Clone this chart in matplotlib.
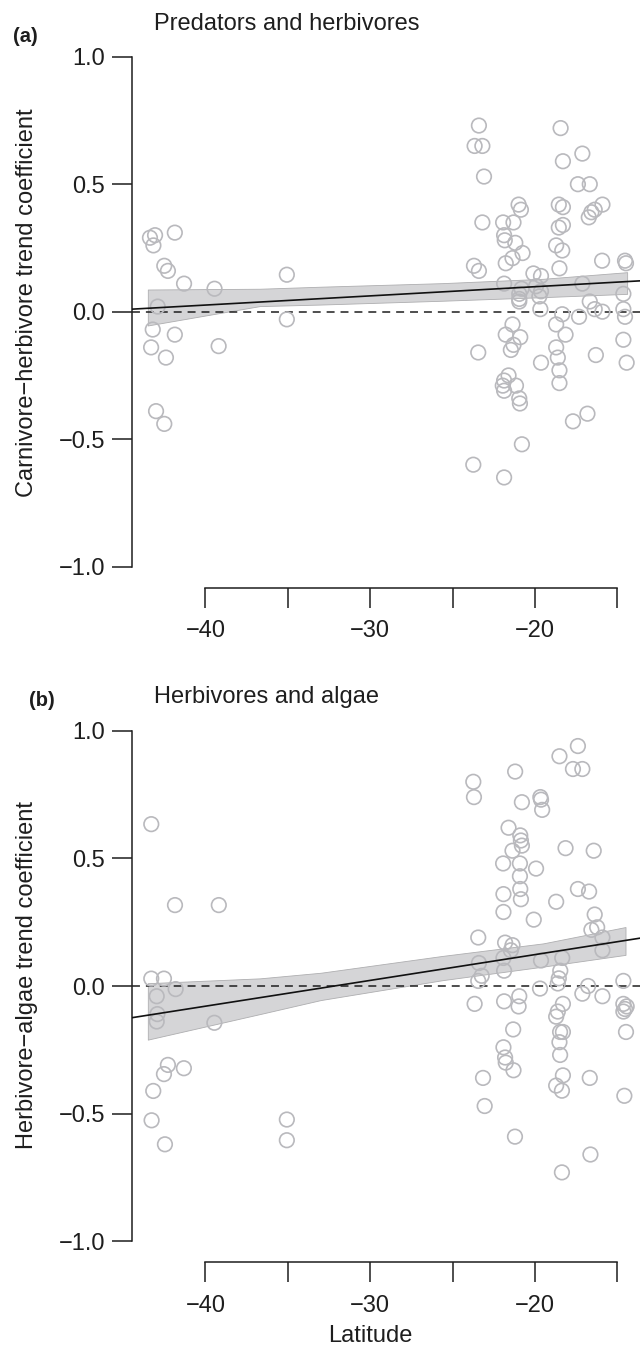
import matplotlib
matplotlib.use("Agg")
import matplotlib.pyplot as plt
import numpy as np

plt.rcParams["font.family"] = ["Liberation Sans", "DejaVu Sans"]

# (a) carnivore-herbivore trend coefficient per site, by latitude
lat_a = [-43.37, -43.06, -43.16, -41.86, -42.50, -42.28, -41.30, -39.45, -42.90, -43.20,
         -41.86, -43.30, -42.40, -39.20, -43.00, -42.50, -35.06, -35.06,
         -23.40, -23.66, -23.19, -23.09, -18.44, -17.12, -18.30, -17.39, -16.67, -20.99,
         -20.85, -18.55, -18.30, -15.90, -16.37, -16.57, -16.73, -23.19, -21.93, -21.30,
         -18.55, -18.30, -21.87, -21.83, -21.19, -18.71, -18.34, -20.75, -21.36, -21.77,
         -23.70, -23.40, -18.51, -15.92, -14.53, -14.47, -20.09, -19.63, -21.87, -20.81,
         -20.95, -20.95, -20.95, -19.93, -19.63, -19.73, -19.67, -17.12, -14.63, -14.63,
         -14.53, -16.67, -16.37, -15.90, -18.34, -17.32, -18.71, -18.14, -21.36, -21.77,
         -20.89, -21.30, -21.46, -23.44, -19.63, -18.71, -18.61, -18.51, -18.51, -16.30,
         -14.63, -14.43, -21.60, -21.87, -21.87, -21.15, -20.95, -20.91, -16.81, -17.69,
         -20.79, -23.74, -21.87, -21.95]
coef_a = [0.29, 0.30, 0.26, 0.31, 0.18, 0.16, 0.11, 0.09, 0.02, -0.07,
          -0.09, -0.14, -0.18, -0.135, -0.39, -0.44, 0.145, -0.03,
          0.73, 0.65, 0.65, 0.53, 0.72, 0.62, 0.59, 0.50, 0.50, 0.42,
          0.40, 0.42, 0.41, 0.42, 0.40, 0.39, 0.37, 0.35, 0.35, 0.35,
          0.33, 0.34, 0.30, 0.28, 0.27, 0.26, 0.24, 0.23, 0.21, 0.19,
          0.18, 0.16, 0.17, 0.20, 0.20, 0.19, 0.15, 0.14, 0.11, 0.09,
          0.07, 0.05, 0.04, 0.10, 0.08, 0.06, 0.01, 0.11, 0.07, 0.01,
          -0.02, 0.04, 0.01, 0.00, -0.01, -0.02, -0.05, -0.09, -0.05, -0.09,
          -0.10, -0.13, -0.15, -0.16, -0.20, -0.14, -0.18, -0.23, -0.28, -0.17,
          -0.11, -0.20, -0.25, -0.27, -0.31, -0.29, -0.34, -0.36, -0.40, -0.43,
          -0.52, -0.60, -0.65, -0.29]
fit_a = (0.170, 0.0036)  # intercept, slope
band_lat_a = [-43.5, -36.7, -33.0, -25.6, -19.5, -14.4]
band_lo_a = [-0.054, 0.022, 0.028, 0.043, 0.057, 0.070]
band_hi_a = [0.087, 0.090, 0.098, 0.112, 0.129, 0.155]

# (b) herbivore-algae trend coefficient per site, by latitude
lat_b = [-43.29, -41.85, -39.19, -43.29, -42.52, -41.81, -42.96, -42.92, -42.96, -39.46,
         -42.28, -41.31, -42.52, -43.17, -43.27, -42.46, -35.06, -35.06,
         -17.39, -18.51, -17.69, -17.12, -21.20, -23.74, -23.70, -19.67, -19.63, -19.56,
         -20.79, -21.60, -20.89, -20.85, -20.79, -21.36, -18.14, -16.43, -21.93, -20.91,
         -19.93, -20.91, -21.91, -20.89, -20.85, -17.39, -16.71, -18.71, -21.91, -20.07,
         -16.37, -16.57, -16.22, -15.90, -23.44, -21.81, -21.36, -21.46, -21.91, -21.87,
         -23.40, -23.23, -23.44, -19.63, -18.34, -18.46, -18.55, -18.61, -15.90, -14.63,
         -19.69, -17.12, -16.77, -15.90, -23.66, -21.87, -20.95, -20.99, -18.30, -18.61,
         -18.71, -14.63, -14.43, -14.53, -14.63, -14.47, -21.32, -18.47, -18.30, -18.51,
         -18.47, -21.91, -21.81, -21.77, -21.30, -23.15, -18.30, -16.67, -18.71, -18.36,
         -14.57, -23.05, -21.21, -16.63, -18.36]
coef_b = [0.634, 0.317, 0.317, 0.029, 0.029, -0.012, -0.040, -0.110, -0.139, -0.144,
          -0.309, -0.322, -0.345, -0.411, -0.526, -0.620, -0.523, -0.604,
          0.94, 0.90, 0.85, 0.85, 0.84, 0.80, 0.74, 0.74, 0.73, 0.69,
          0.72, 0.62, 0.59, 0.57, 0.55, 0.53, 0.54, 0.53, 0.48, 0.48,
          0.46, 0.43, 0.36, 0.38, 0.34, 0.38, 0.37, 0.33, 0.29, 0.26,
          0.28, 0.22, 0.23, 0.19, 0.19, 0.17, 0.16, 0.14, 0.11, 0.06,
          0.09, 0.04, 0.02, 0.10, 0.11, 0.06, 0.03, 0.01, 0.14, 0.02,
          -0.01, -0.03, 0.00, -0.04, -0.07, -0.06, -0.04, -0.08, -0.07, -0.10,
          -0.12, -0.07, -0.08, -0.09, -0.10, -0.18, -0.17, -0.18, -0.18, -0.22,
          -0.27, -0.24, -0.28, -0.30, -0.33, -0.36, -0.35, -0.36, -0.39, -0.41,
          -0.43, -0.47, -0.59, -0.66, -0.73]
fit_b = (0.325, 0.0101)
band_lat_b = [-43.5, -36.7, -33.0, -25.6, -19.5, -14.5]
band_lo_b = [-0.210, -0.110, -0.055, 0.023, 0.076, 0.122]
band_hi_b = [0.011, 0.030, 0.052, 0.118, 0.167, 0.231]

X_TICKS = [-40, -35, -30, -25, -20, -15]
X_LABELS = ["\u221240", "", "\u221230", "", "\u221220", ""]
Y_TICKS = [-1.0, -0.5, 0.0, 0.5, 1.0]
Y_LABELS = ["\u22121.0", "\u22120.5", "0.0", "0.5", "1.0"]

W, H = 640, 1347
XLIM = (-44.49, -13.62)
INK = "#1e1e1e"
PT_GREY = "#b9b9bd"


def draw_panel(ax, lat, coef, fit, band_lat, band_lo, band_hi, ylim, ylabel):
    ax.fill_between(band_lat, band_lo, band_hi, facecolor="#d5d5d7",
                    edgecolor="#aeaeb0", linewidth=0.6, zorder=1)
    ax.axhline(0, color=INK, lw=1.1, dashes=(5.2, 3.9), zorder=2)
    ax.scatter(lat, coef, s=110, facecolors="none", edgecolors=PT_GREY,
               linewidths=1.2, zorder=3)
    xs = np.array(XLIM)
    ax.plot(xs, fit[0] + fit[1] * xs, color="#111111", lw=1.2, zorder=4)

    ax.set_xlim(*XLIM)
    ax.set_ylim(*ylim)
    ax.set_xticks(X_TICKS, labels=X_LABELS)
    ax.set_yticks(Y_TICKS, labels=Y_LABELS)
    for side in ["top", "right"]:
        ax.spines[side].set_visible(False)
    ax.spines["left"].set_bounds(-1, 1)
    ax.spines["bottom"].set_bounds(-40, -15)
    for side in ["left", "bottom"]:
        ax.spines[side].set_linewidth(1.1)
        ax.spines[side].set_color(INK)
    ax.tick_params(length=14.4, width=1.1, color=INK, labelsize=17, labelcolor=INK)
    ax.tick_params(axis="x", pad=9)
    ax.tick_params(axis="y", pad=4.5)
    ax.set_ylabel(ylabel, fontsize=17, color=INK)
    ax.yaxis.set_label_coords(-0.184, 0.525)
    ax.patch.set_visible(False)


def main():
    fig = plt.figure(figsize=(W / 100, H / 100), dpi=100)

    left = 131.5 / W
    width = (W - 131.5) / W
    # panel (a): axes spans px 44 (top) to 587.7 (bottom)
    ax_a = fig.add_axes([left, 1 - 587.7 / H, width, (587.7 - 43.95) / H])
    draw_panel(ax_a, lat_a, coef_a, fit_a, band_lat_a, band_lo_a, band_hi_a,
               (-1.0824, 1.05), "Carnivore\u2212herbivore trend coefficient")
    # panel (b): axes spans px 715.4 to 1262
    ax_b = fig.add_axes([left, 1 - 1262 / H, width, (1262 - 715.4) / H])
    draw_panel(ax_b, lat_b, coef_b, fit_b, band_lat_b, band_lo_b, band_hi_b,
               (-1.081, 1.06), "Herbivore\u2212algae trend coefficient")
    ax_b.set_xlabel("Latitude", fontsize=17, color=INK)
    ax_b.xaxis.set_label_coords(0.469, -0.115)

    fig.text(154 / W, 1 - 30 / H, "Predators and herbivores", fontsize=17,
             color=INK, va="baseline")
    fig.text(154 / W, 1 - 703 / H, "Herbivores and algae", fontsize=17,
             color=INK, va="baseline")
    fig.text(13 / W, 1 - 37 / H, "(a)", fontsize=14.5, fontweight="bold",
             color=INK, va="center")
    fig.text(29 / W, 1 - 700 / H, "(b)", fontsize=14.5, fontweight="bold",
             color=INK, va="center")

    fig.savefig("out.png", dpi=100)


if __name__ == "__main__":
    main()
